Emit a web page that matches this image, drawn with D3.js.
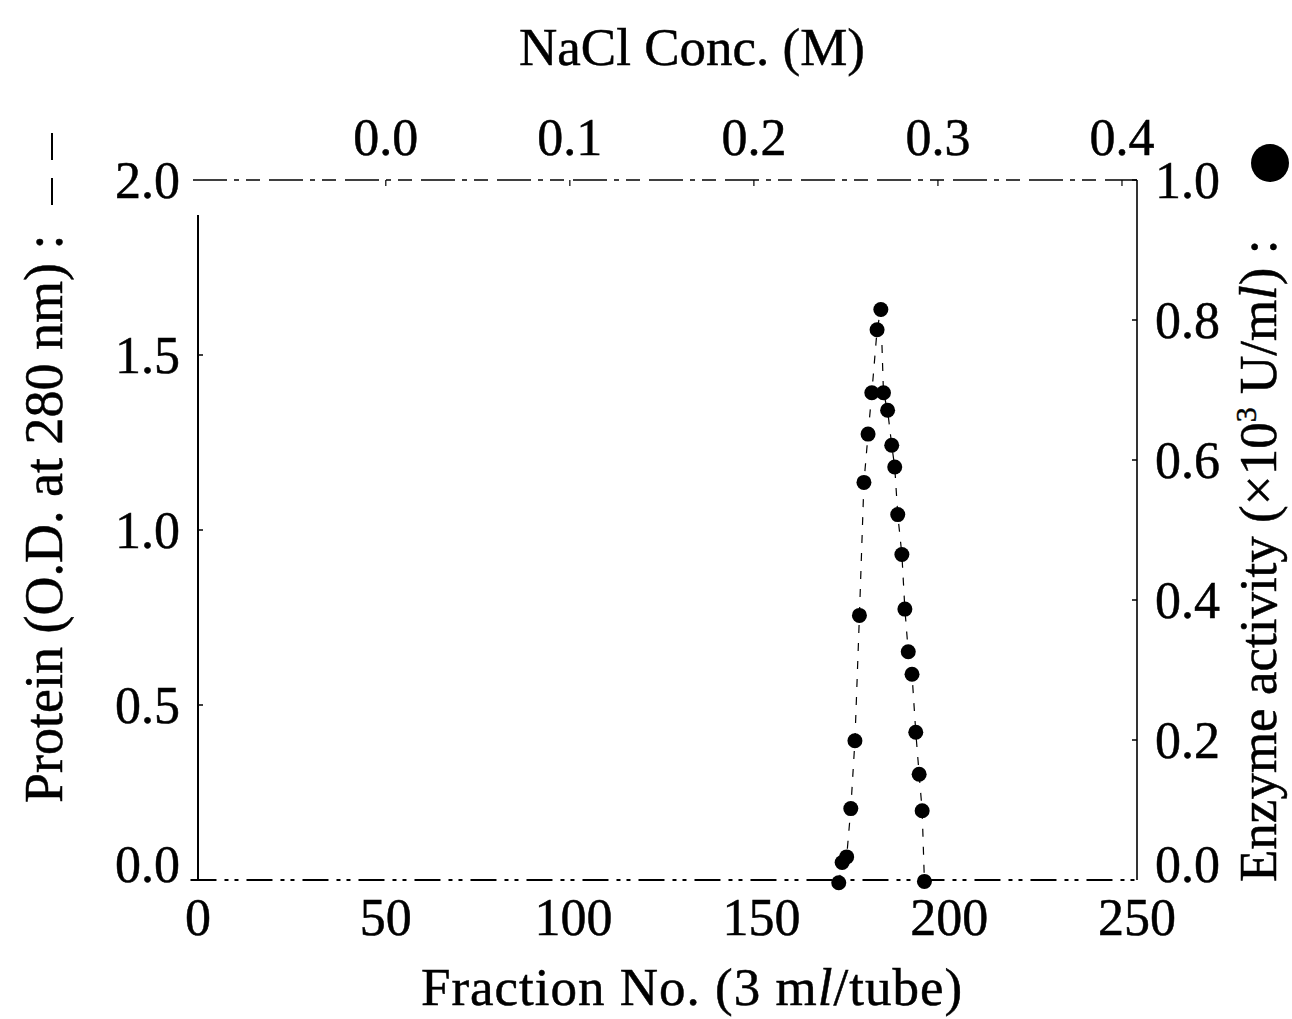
<!DOCTYPE html>
<html><head><meta charset="utf-8">
<script src="https://cdn.jsdelivr.net/npm/d3@7"></script>
<style>
html,body{margin:0;padding:0;background:#fff;}
svg text{font-family:"Liberation Serif","Times New Roman",serif;fill:#000;stroke:#000;stroke-width:0.5px;}
</style></head>
<body>
<svg id="chart" width="1292" height="1019"></svg>
<script>
// ---- data ----
const fractionTicks = [0, 50, 100, 150, 200, 250];
const proteinTicks = [0.0, 0.5, 1.0, 1.5, 2.0];
const activityTicks = [0.0, 0.2, 0.4, 0.6, 0.8, 1.0];
const naclTicks = [0.0, 0.1, 0.2, 0.3, 0.4];

const enzymeFraction = [170.6, 171.5, 172.7, 173.8, 174.9, 176.1, 177.3, 178.4, 179.4, 180.8, 181.8,
  182.5, 183.6, 184.7, 185.5, 186.3, 187.4, 188.2, 189.1, 190.1, 191.1, 192.0, 192.8, 193.4];
const enzymeActivity = [-0.004, 0.025, 0.033, 0.102, 0.199, 0.378, 0.568, 0.637, 0.696, 0.786, 0.815,
  0.696, 0.671, 0.621, 0.590, 0.522, 0.465, 0.387, 0.326, 0.294, 0.211, 0.151, 0.099, -0.002];

const proteinFraction = [-2, 50, 100, 150, 200, 250];
const proteinOD = [0, 0, 0, 0, 0, 0];

// ---- layout ----
const svg = d3.select("#chart");
const x = d3.scaleLinear().domain([0, 250]).range([198, 1137]);
const yL = d3.scaleLinear().domain([0, 2]).range([880, 180]);
const yR = d3.scaleLinear().domain([0, 1]).range([880, 180]);
const xN = d3.scaleLinear().domain([0, 0.4]).range([x(50), x(246)]);
const fmt1 = d3.format(".1f");
const FS = 52;

// frame: top (degraded dashed), left, right
svg.append("line").attr("x1", 193).attr("x2", x(250)).attr("y1", yL(2)).attr("y2", yL(2))
  .attr("stroke", "#000").attr("stroke-width", 1.6).attr("stroke-dasharray", "34,7,5,7,14,9");
svg.append("line").attr("x1", x(0)).attr("x2", x(0)).attr("y1", 215).attr("y2", yL(0))
  .attr("stroke", "#000").attr("stroke-width", 2);
svg.append("line").attr("x1", x(250)).attr("x2", x(250)).attr("y1", yR(1)).attr("y2", yR(0))
  .attr("stroke", "#000").attr("stroke-width", 1.6);

// protein line (dashed)
const proteinLine = d3.line().x((d, i) => x(proteinFraction[i])).y(d => yL(d));
svg.append("path").attr("d", proteinLine(proteinOD)).attr("fill", "none")
  .attr("stroke", "#000").attr("stroke-width", 1.8).attr("stroke-dasharray", "26,8,4,6,4,8");

// ticks
svg.selectAll(".tl").data(proteinTicks.slice(1, 4)).join("line")
  .attr("x1", x(0)).attr("x2", x(0) + 5).attr("y1", d => yL(d)).attr("y2", d => yL(d))
  .attr("stroke", "#000").attr("stroke-width", 1.5);
svg.selectAll(".tr").data(activityTicks.slice(1)).join("line")
  .attr("x1", x(250) - 5).attr("x2", x(250)).attr("y1", d => yR(d)).attr("y2", d => yR(d))
  .attr("stroke", "#000").attr("stroke-width", 1.5);
svg.selectAll(".tt").data(naclTicks).join("line")
  .attr("x1", d => xN(d)).attr("x2", d => xN(d)).attr("y1", yL(2)).attr("y2", yL(2) + 6)
  .attr("stroke", "#000").attr("stroke-width", 1.2);

// tick labels
svg.selectAll(".lb").data(fractionTicks).join("text")
  .attr("x", d => x(d)).attr("y", 935).attr("text-anchor", "middle")
  .attr("font-size", FS).text(d => d);
svg.selectAll(".ll").data(proteinTicks).join("text")
  .attr("x", 180).attr("y", d => yL(d) + 18 - (d === 0 ? 16 : 0)).attr("text-anchor", "end")
  .attr("font-size", FS).text(d => fmt1(d));
svg.selectAll(".lr").data(activityTicks).join("text")
  .attr("x", 1155).attr("y", d => yR(d) + 18 - (d === 0 ? 16 : 0)).attr("text-anchor", "start")
  .attr("font-size", FS).text(d => fmt1(d));
svg.selectAll(".lt").data(naclTicks).join("text")
  .attr("x", d => xN(d)).attr("y", 155).attr("text-anchor", "middle")
  .attr("font-size", FS).text(d => fmt1(d));

// axis titles
svg.append("text").attr("x", 692).attr("y", 65).attr("text-anchor", "middle")
  .attr("font-size", 53).text("NaCl Conc. (M)");
const bt = svg.append("text").attr("x", 692).attr("y", 1005).attr("text-anchor", "middle")
  .attr("font-size", 53).attr("letter-spacing", 1);
bt.append("tspan").text("Fraction No. (3 m");
bt.append("tspan").attr("font-style", "italic").text("l");
bt.append("tspan").text("/tube)");

const lt = svg.append("text").attr("transform", "translate(62,803) rotate(-90)")
  .attr("text-anchor", "start").attr("font-size", 54);
lt.text("Protein (O.D. at 280 nm) :");
svg.append("line").attr("x1", 52).attr("x2", 52).attr("y1", 133).attr("y2", 205)
  .attr("stroke", "#000").attr("stroke-width", 2).attr("stroke-dasharray", "27,18");

const rt = svg.append("text").attr("transform", "translate(1276,882) rotate(-90)")
  .attr("text-anchor", "start").attr("font-size", 53);
rt.append("tspan").text("Enzyme activity (\u00d710");
rt.append("tspan").attr("font-size", 30).attr("dy", -20).text("3");
rt.append("tspan").attr("dy", 20).text(" U/m");
rt.append("tspan").attr("font-style", "italic").text("l");
rt.append("tspan").text(") :");
svg.append("circle").attr("cx", 1270).attr("cy", 163).attr("r", 19).attr("fill", "#000");

// enzyme activity: thin connecting line + dots
const enzLine = d3.line().x((d, i) => x(enzymeFraction[i])).y(d => yR(d));
svg.append("path").attr("d", enzLine(enzymeActivity)).attr("fill", "none")
  .attr("stroke", "#000").attr("stroke-width", 1.2).attr("stroke-dasharray", "8,10");
svg.selectAll(".dot").data(enzymeActivity).join("circle")
  .attr("cx", (d, i) => x(enzymeFraction[i])).attr("cy", d => yR(d))
  .attr("r", 7.5).attr("fill", "#000");
</script>
</body></html>
